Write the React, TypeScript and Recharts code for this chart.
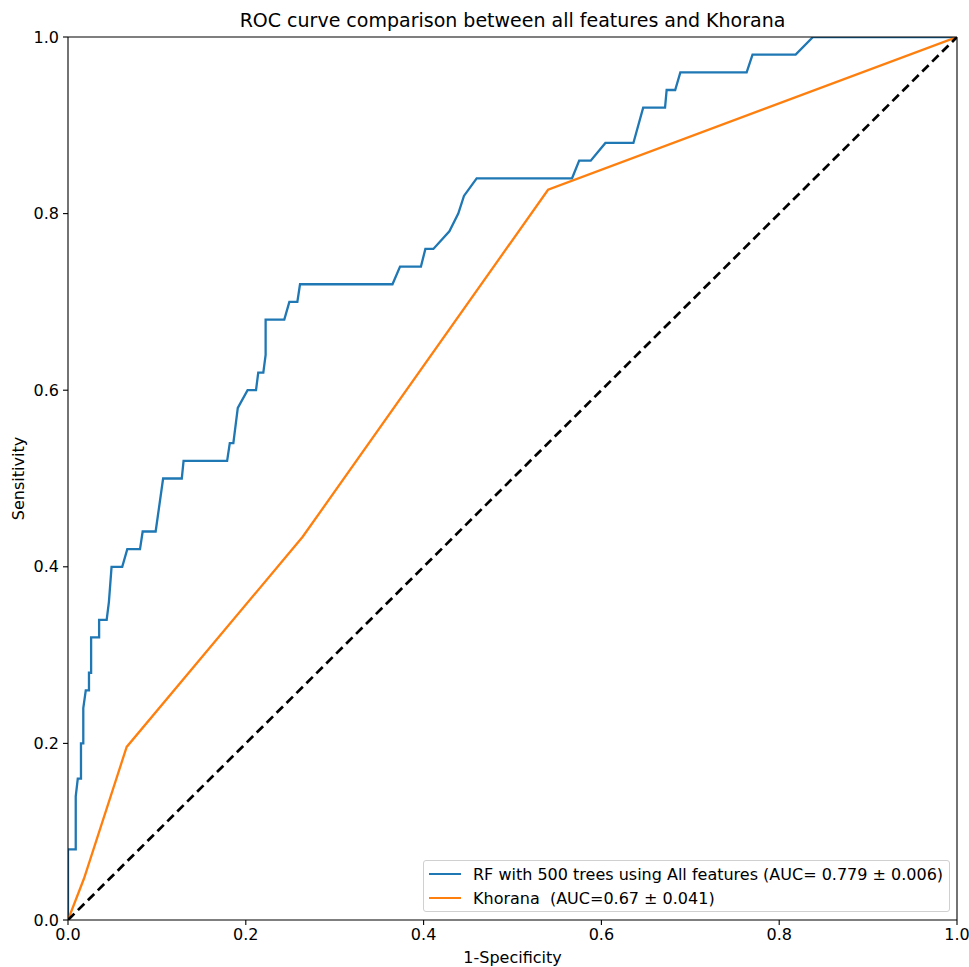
import { LineChart, Line, XAxis, YAxis, ReferenceLine } from "recharts"

// mean ROC of the random forest (averaged over folds, so some steps are slanted)
const rfFpr = [
  0, 0, 0.0087, 0.0087, 0.011, 0.0146, 0.0146, 0.0172, 0.0172, 0.02, 0.0236, 0.0236, 0.026, 0.026,
  0.035, 0.035, 0.0435, 0.046, 0.049, 0.061, 0.0667, 0.081, 0.084, 0.0986, 0.107, 0.128, 0.13,
  0.179, 0.182, 0.186, 0.191, 0.202, 0.2115, 0.214, 0.2197, 0.2223, 0.2223, 0.2433, 0.249, 0.258,
  0.261, 0.365, 0.3735, 0.397, 0.402, 0.411, 0.429, 0.439, 0.4454, 0.4597, 0.567, 0.575, 0.588,
  0.6045, 0.636, 0.647, 0.6716, 0.6734, 0.683, 0.6888, 0.7634, 0.77, 0.8185, 0.838, 1,
]
const rfTpr = [
  0, 0.08, 0.08, 0.14, 0.16, 0.16, 0.2, 0.2, 0.24, 0.26, 0.26, 0.28, 0.28, 0.32,
  0.32, 0.34, 0.34, 0.36, 0.4, 0.4, 0.42, 0.42, 0.44, 0.44, 0.5, 0.5, 0.52,
  0.52, 0.54, 0.54, 0.58, 0.6, 0.6, 0.62, 0.62, 0.64, 0.68, 0.68, 0.7, 0.7,
  0.72, 0.72, 0.74, 0.74, 0.76, 0.76, 0.78, 0.8, 0.82, 0.84, 0.84, 0.86, 0.86,
  0.88, 0.88, 0.92, 0.92, 0.94, 0.94, 0.96, 0.96, 0.98, 0.98, 1, 1,
]

const khoranaFpr = [0, 0.018, 0.066, 0.264, 0.54, 1]
const khoranaTpr = [0, 0.047, 0.196, 0.434, 0.827, 1]

const chanceFpr = [0, 1]
const chanceTpr = [0, 1]

const ticks = [0, 0.2, 0.4, 0.6, 0.8, 1]

const rfLabel = "RF with 500 trees using All features (AUC= 0.779 ± 0.006)"
const khoranaLabel = "Khorana  (AUC=0.67 ± 0.041)"

const zip = (xs: number[], ys: number[]) => xs.map((x, i) => ({ x, y: ys[i] }))

const rfData = zip(rfFpr, rfTpr)
const khoranaData = zip(khoranaFpr, khoranaTpr)
const chanceData = zip(chanceFpr, chanceTpr)

const FONT = "'DejaVu Sans', sans-serif"
const BLUE = "#1f77b4"
const ORANGE = "#ff7f0e"

function RocLegend() {
  const items = [
    { value: rfLabel, color: BLUE },
    { value: khoranaLabel, color: ORANGE },
  ]
  return (
    <div
      style={{
        position: "absolute",
        left: 423,
        top: 860,
        width: 527,
        height: 52,
        boxSizing: "border-box",
        border: "1px solid #d0d0d0",
        borderRadius: 3,
        background: "rgba(255,255,255,0.85)",
        padding: "1px 0 0 5px",
        fontFamily: FONT,
        fontSize: 16,
        color: "#000",
      }}
    >
      {items.map((p) => (
        <div key={p.value} style={{ display: "flex", alignItems: "center", height: 24 }}>
          <span style={{ display: "inline-block", width: 32, height: 0, borderTop: `2px solid ${p.color}`, marginRight: 12 }} />
          <span style={{ whiteSpace: "pre" }}>{p.value}</span>
        </div>
      ))}
    </div>
  )
}

export default function App() {
  return (
    <div style={{ position: "absolute", left: 0, top: 0, width: 969, height: 967, background: "#fff", fontFamily: FONT }}>
      <div
        style={{
          position: "absolute",
          left: 68,
          width: 889,
          top: 9,
          textAlign: "center",
          fontSize: 19,
          color: "#000",
        }}
      >
        ROC curve comparison between all features and Khorana
      </div>
      <LineChart width={969} height={967} margin={{ top: 37, right: 12, left: 0, bottom: 0 }}>
        <XAxis
          type="number"
          dataKey="x"
          domain={[0, 1]}
          ticks={ticks}
          tickFormatter={(v: number) => v.toFixed(1)}
          tick={{ fontSize: 16, fill: "#000", fontFamily: FONT }}
          tickSize={5}
          tickMargin={4}
          axisLine={{ stroke: "#000", strokeWidth: 1.1 }}
          tickLine={{ stroke: "#000", strokeWidth: 1.1 }}
          height={47}
          allowDataOverflow
          label={{ value: "1-Specificity", position: "insideBottom", offset: 4, fontSize: 16, fill: "#000", fontFamily: FONT }}
        />
        <YAxis
          type="number"
          dataKey="y"
          domain={[0, 1]}
          ticks={ticks}
          tickFormatter={(v: number) => v.toFixed(1)}
          tick={{ fontSize: 16, fill: "#000", fontFamily: FONT }}
          tickSize={5}
          tickMargin={4}
          axisLine={{ stroke: "#000", strokeWidth: 1.1 }}
          tickLine={{ stroke: "#000", strokeWidth: 1.1 }}
          width={68}
          allowDataOverflow
          label={{
            value: "Sensitivity",
            angle: -90,
            position: "insideLeft",
            offset: 18,
            fontSize: 16,
            fill: "#000",
            fontFamily: FONT,
            style: { textAnchor: "middle" },
          }}
        />
        <Line
          data={rfData}
          dataKey="y"
          name={rfLabel}
          type="linear"
          stroke={BLUE}
          strokeWidth={2.3}
          dot={false}
          activeDot={false}
          isAnimationActive={false}
        />
        <Line
          data={khoranaData}
          dataKey="y"
          name={khoranaLabel}
          type="linear"
          stroke={ORANGE}
          strokeWidth={2.3}
          dot={false}
          activeDot={false}
          isAnimationActive={false}
        />
        <Line
          data={chanceData}
          dataKey="y"
          name="chance"
          legendType="none"
          type="linear"
          stroke="#000"
          strokeWidth={2.7}
          strokeDasharray="9 5"
          dot={false}
          activeDot={false}
          isAnimationActive={false}
        />
        <ReferenceLine y={1} stroke="#000" strokeWidth={1.1} />
        <ReferenceLine x={1} stroke="#000" strokeWidth={1.1} />
      </LineChart>
      <RocLegend />
    </div>
  )
}
